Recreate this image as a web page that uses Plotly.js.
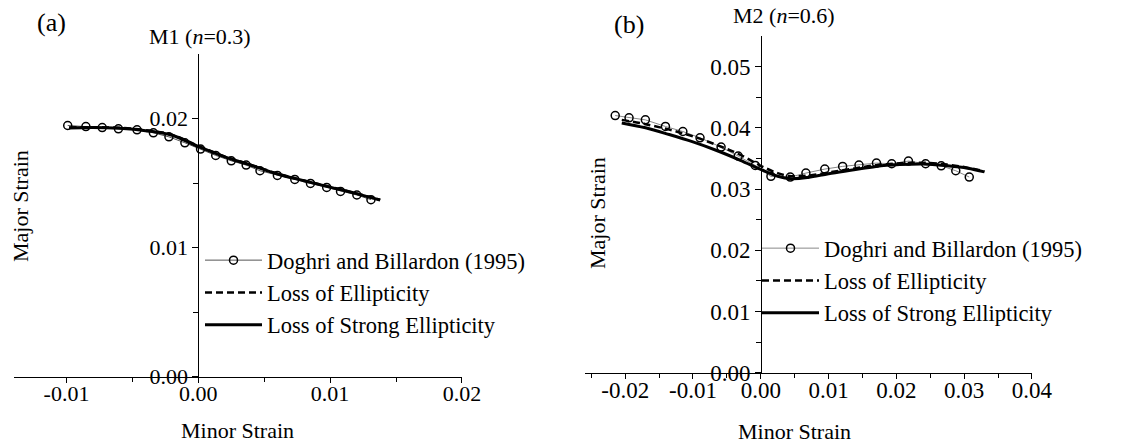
<!DOCTYPE html>
<html>
<head>
<meta charset="utf-8">
<script src="https://cdn.plot.ly/plotly-3.0.1.min.js"></script>
<style>
html,body{margin:0;padding:0;background:#fff;}
#chart{width:1139px;height:448px;}
</style>
</head>
<body>
<div id="chart"></div>
<script>
// ---------- Panel (a): M1 (n=0.3) ----------
var a_doghri_x = [-0.00991,-0.00853,-0.00729,-0.00606,-0.00465,-0.00341,-0.00223,-0.00102,0.00017,0.00132,0.00250,0.00363,0.00468,0.00600,0.00732,0.00851,0.00974,0.01079,0.01203,0.01310];
var a_doghri_y = [0.01948,0.01940,0.01932,0.01922,0.01914,0.01891,0.01860,0.01814,0.01765,0.01716,0.01674,0.01641,0.01597,0.01561,0.01530,0.01499,0.01468,0.01437,0.01409,0.01373];
var a_line_x   = [-0.0098,-0.008,-0.006,-0.004,-0.002,0,0.002,0.004,0.006,0.008,0.010,0.012,0.0138];
var a_ellip_y  = [0.01932,0.01935,0.01930,0.01912,0.01876,0.01790,0.01708,0.01643,0.01575,0.01522,0.01472,0.01421,0.01371];
var a_strong_y = [0.01928,0.01932,0.01926,0.01908,0.01872,0.01785,0.01705,0.01640,0.01572,0.01520,0.01470,0.01420,0.01370];

// ---------- Panel (b): M2 (n=0.6) ----------
var b_doghri_x = [-0.02147,-0.01943,-0.01702,-0.01406,-0.01149,-0.00896,-0.00585,-0.00333,-0.00081,0.00150,0.00435,0.00666,0.00945,0.01208,0.01449,0.01707,0.01932,0.02179,0.02432,0.02662,0.02877,0.03076];
var b_doghri_y = [0.04201,0.04163,0.04130,0.04022,0.03940,0.03837,0.03685,0.03538,0.03386,0.03207,0.03196,0.03261,0.03326,0.03370,0.03391,0.03424,0.03413,0.03457,0.03413,0.03380,0.03299,0.03196];
var b_line_x   = [-0.0205,-0.017,-0.0135,-0.010,-0.0065,-0.003,0,0.0025,0.0045,0.007,0.010,0.0135,0.017,0.0205,0.024,0.0275,0.0305,0.033];
var b_ellip_y  = [0.0413,0.0406,0.0397,0.0386,0.0372,0.0356,0.0338,0.0326,0.0321,0.0322,0.0327,0.0333,0.0339,0.0342,0.0343,0.0340,0.0335,0.0329];
var b_strong_y = [0.0408,0.0400,0.0389,0.0377,0.0363,0.0347,0.0332,0.0321,0.0317,0.0319,0.0325,0.0331,0.0337,0.0340,0.0341,0.0338,0.0334,0.0328];

// ---------- Tick labels ----------
var a_xtick_vals = [-0.01,0,0.01,0.02];
var a_xtick_text = ["-0.01","0.00","0.01","0.02"];
var a_xminor     = [-0.005,0.005,0.015];
var a_ytick_vals = [0,0.01,0.02];
var a_ytick_text = ["0.00","0.01","0.02"];
var a_yminor     = [0.005,0.015];

var b_xtick_vals = [-0.02,-0.01,0,0.01,0.02,0.03,0.04];
var b_xtick_text = ["-0.02","-0.01","0.00","0.01","0.02","0.03","0.04"];
var b_xminor     = [-0.025,-0.015,-0.005,0.005,0.015,0.025,0.035];
var b_ytick_vals = [0,0.01,0.02,0.03,0.04,0.05];
var b_ytick_text = ["0.00","0.01","0.02","0.03","0.04","0.05"];
var b_yminor     = [0.005,0.015,0.025,0.035,0.045];

var names = ["Doghri and Billardon (1995)","Loss of Ellipticity","Loss of Strong Ellipticity"];

var FONT = "Liberation Serif, 'Times New Roman', Times, serif";
var W = 1139, H = 448;
function px(x){return x/W;}
function py(y){return 1 - y/H;}

var traces = [
  {x:a_doghri_x, y:a_doghri_y, name:names[0], mode:'lines+markers', xaxis:'x', yaxis:'y', legend:'legend',
   line:{color:'#555', width:1}, marker:{symbol:'circle-open', size:8, color:'#000', line:{width:1.5, color:'#000'}}},
  {x:a_line_x, y:a_ellip_y, name:names[1], mode:'lines', xaxis:'x', yaxis:'y', legend:'legend',
   line:{color:'#000', width:2.5, dash:'7px,4px', shape:'spline'}},
  {x:a_line_x, y:a_strong_y, name:names[2], mode:'lines', xaxis:'x', yaxis:'y', legend:'legend',
   line:{color:'#000', width:3, shape:'spline'}},
  {x:b_doghri_x, y:b_doghri_y, name:names[0], mode:'lines+markers', xaxis:'x2', yaxis:'y2', legend:'legend2',
   line:{color:'#888', width:1}, marker:{symbol:'circle-open', size:8, color:'#000', line:{width:1.5, color:'#000'}}},
  {x:b_line_x, y:b_ellip_y, name:names[1], mode:'lines', xaxis:'x2', yaxis:'y2', legend:'legend2',
   line:{color:'#000', width:2.5, dash:'7px,4px', shape:'spline'}},
  {x:b_line_x, y:b_strong_y, name:names[2], mode:'lines', xaxis:'x2', yaxis:'y2', legend:'legend2',
   line:{color:'#000', width:3, shape:'spline'}}
];

function xax(domain, range, vals, text, minor, anchor, fs){
  return {domain:domain, range:range, anchor:anchor, showline:true, linecolor:'#000', linewidth:1,
    showgrid:false, zeroline:false, ticks:'outside', ticklen:5, tickwidth:1, tickcolor:'#000',
    tickmode:'array', tickvals:vals, ticktext:text, tickfont:{family:FONT, size:fs, color:'#000'},
    ticklabelstandoff:-8,
    minor:{tickmode:'array', tickvals:minor, ticks:'outside', ticklen:4, tickwidth:1, tickcolor:'#000', showgrid:false},
    fixedrange:true};
}
function yax(domain, range, vals, text, minor, pos, fs){
  return {domain:domain, range:range, anchor:'free', position:pos, showline:true, linecolor:'#000', linewidth:1,
    showgrid:false, zeroline:false, ticks:'outside', ticklen:6, tickwidth:1, tickcolor:'#000',
    tickmode:'array', tickvals:vals, ticktext:text, tickfont:{family:FONT, size:fs, color:'#000'},
    minor:{tickmode:'array', tickvals:minor, ticks:'outside', ticklen:5, tickwidth:1, tickcolor:'#000', showgrid:false},
    fixedrange:true};
}

var layout = {
  width:W, height:H, margin:{l:0,r:0,t:0,b:0}, paper_bgcolor:'#fff', plot_bgcolor:'rgba(0,0,0,0)',
  font:{family:FONT, color:'#000'},
  showlegend:true,
  xaxis: xax([px(13.8), px(461.9)], [-0.014, 0.02], a_xtick_vals, a_xtick_text, a_xminor, 'y', 22),
  yaxis: yax([py(376.7), py(54.3)], [0, 0.025], a_ytick_vals, a_ytick_text, a_yminor, px(198.3), 22),
  xaxis2: xax([px(584.5), px(1031.9)], [-0.026, 0.04], b_xtick_vals, b_xtick_text, b_xminor, 'y2', 23),
  yaxis2: yax([py(372.7), py(36)], [0, 0.055], b_ytick_vals, b_ytick_text, b_yminor, px(761.2), 23),
  legend: {x:px(200), y:py(239), xanchor:'left', yanchor:'top', bgcolor:'rgba(0,0,0,0)', borderwidth:0,
    font:{family:FONT, size:22.5, color:'#000'}, itemwidth:57, tracegroupgap:0},
  legend2: {x:px(757), y:py(227), xanchor:'left', yanchor:'top', bgcolor:'rgba(0,0,0,0)', borderwidth:0,
    font:{family:FONT, size:22.5, color:'#000'}, itemwidth:57, tracegroupgap:0},
  annotations: [
    {text:'(a)', x:px(51), y:py(23), xref:'paper', yref:'paper', xanchor:'center', yanchor:'middle', showarrow:false, font:{family:FONT, size:26, color:'#000'}},
    {text:'M1 (<i>n</i>=0.3)', x:px(199.6), y:py(36), xref:'paper', yref:'paper', xanchor:'center', yanchor:'middle', showarrow:false, font:{family:FONT, size:22, color:'#000'}},
    {text:'Major Strain', x:px(20), y:py(206), xref:'paper', yref:'paper', xanchor:'center', yanchor:'middle', textangle:-90, showarrow:false, font:{family:FONT, size:22, color:'#000'}},
    {text:'Minor Strain', x:px(237.7), y:py(430), xref:'paper', yref:'paper', xanchor:'center', yanchor:'middle', showarrow:false, font:{family:FONT, size:22, color:'#000'}},
    {text:'(b)', x:px(629), y:py(24), xref:'paper', yref:'paper', xanchor:'center', yanchor:'middle', showarrow:false, font:{family:FONT, size:26, color:'#000'}},
    {text:'M2 (<i>n</i>=0.6)', x:px(784), y:py(15), xref:'paper', yref:'paper', xanchor:'center', yanchor:'middle', showarrow:false, font:{family:FONT, size:22, color:'#000'}},
    {text:'Major Strain', x:px(597), y:py(213), xref:'paper', yref:'paper', xanchor:'center', yanchor:'middle', textangle:-90, showarrow:false, font:{family:FONT, size:22, color:'#000'}},
    {text:'Minor Strain', x:px(795), y:py(431), xref:'paper', yref:'paper', xanchor:'center', yanchor:'middle', showarrow:false, font:{family:FONT, size:22, color:'#000'}}
  ]
};

Plotly.newPlot('chart', traces, layout, {displayModeBar:false, staticPlot:true});
</script>
</body>
</html>
